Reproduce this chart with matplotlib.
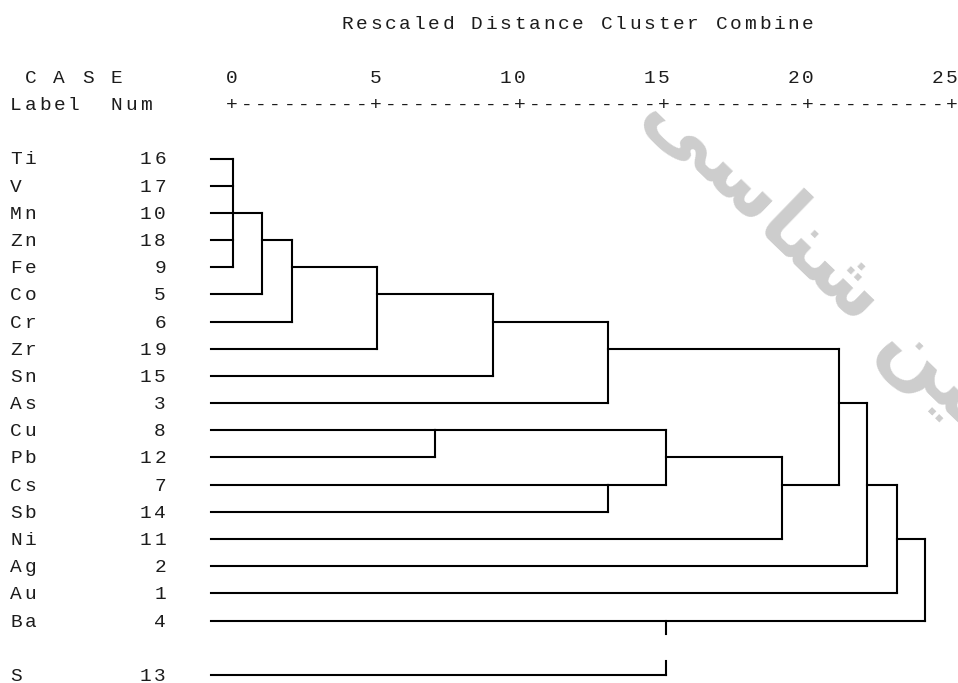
#!/usr/bin/env python3
# Dendrogram of trace elements, drawn in the SPSS text-output style
# (rescaled distance 0-25, one text column = half a unit).
import matplotlib; matplotlib.use("Agg")
import matplotlib.pyplot as plt

labels = ["Ti", "V", "Mn", "Zn", "Fe", "Co", "Cr", "Zr", "Sn", "As",
          "Cu", "Pb", "Cs", "Sb", "Ni", "Ag", "Au", "Ba", "S"]
case_nums = [16, 17, 10, 18, 9, 5, 6, 19, 15, 3, 8, 12, 7, 14, 11, 2, 1, 4, 13]
case_rows = list(range(18)) + [19]           # S sits after a blank line
# rescaled distance where each case line ends (its first join)
leaf_join = [0.03, 0.03, 0.03, 0.03, 0.03, 1.04, 2.08, 5.03, 9.06, 13.06,
             7.05, 7.05, 13.06, 13.06, 19.10, 22.05, 23.09, 24.06, 15.07]

# merges: distance, rows spanned by the vertical, row of the outgoing line, parent merge
merge_dist   = [0.03, 1.04, 2.08, 5.03, 9.06, 13.06, 7.05, 13.06, 15.07, 19.10, 21.08, 22.05, 23.09, 24.06]
merge_top    = [0, 2, 3, 4, 5, 6, 10, 12, 10, 11, 7, 9, 12, 14]
merge_bot    = [4, 5, 6, 7, 8, 9, 11, 13, 12, 14, 12, 15, 16, 17]
merge_out    = [2, 3, 4, 5, 6, 7, 10, 12, 11, 12, 9, 12, 14, None]
merge_parent = [1, 2, 3, 4, 5, 10, 8, 8, 9, 10, 11, 12, 13, None]

scale_ticks = [0, 5, 10, 15, 20, 25]
title = "Rescaled Distance Cluster Combine"

W, H, DPI = 958, 683, 100
X0, PX = 232, 28.8        # pixel of distance 0, pixels per unit
Y0, RH = 158.5, 27.18     # pixel of first case row, pixels per text row
MONO = "Liberation Mono"
INK = "#1c1c1c"
LEAF_X = -0.72

fig = plt.figure(figsize=(W / DPI, H / DPI), dpi=DPI)
ax = fig.add_axes([0, 0, 1, 1])
ax.set_xlim(-X0 / PX, (W - X0) / PX)
ax.set_ylim((H - Y0) / RH, -Y0 / RH)
ax.axis("off")


def put(col, row, s):
    """One character per column; column 15 is distance 0, two columns per unit."""
    for i, ch in enumerate(s):
        if ch != " ":
            ax.text((col + i - 15) / 2, row + 0.22, ch, ha="center", va="baseline",
                    family=MONO, fontsize=14, color=INK)


# header
put(23, -5, title)
put(1, -3, "C A S E")
for t in scale_ticks:
    s = str(t)
    put(15 + 2 * t - len(s) + 1, -3, s)
put(0, -2, "Label")
put(7, -2, "Num")
put(15, -2, "+" + "---------+" * (len(scale_ticks) - 1))

# case labels and numbers
for lab, num, r in zip(labels, case_nums, case_rows):
    put(0, r, lab)
    put(11 - len(str(num)), r, str(num))

kw = dict(color="black", lw=1.5, solid_capstyle="projecting")
for r, d in zip(case_rows, leaf_join):
    ax.plot([LEAF_X, d], [r, r], **kw)
for d, top, bot, out, par in zip(merge_dist, merge_top, merge_bot, merge_out, merge_parent):
    ax.plot([d, d], [top, bot], **kw)
    if par is not None:
        ax.plot([d, merge_dist[par]], [out, out], **kw)

# S is joined to Ba across the blank line (broken link)
ds = leaf_join[-1]
ax.plot([ds, ds], [17, 17.5], **kw)
ax.plot([ds, ds], [18.5, 19], **kw)

# faint watermark (pre-shaped Arabic presentation forms, visual order)
wm = "\uFEF0\uFEB3\uFE8E\uFEE8\uFEB7 \uFEE6\uFEF4\uFEE3\uFEAF"
fig.text(640 / W, 1 - 116 / H, wm, rotation=-44, rotation_mode="anchor",
         ha="left", va="baseline", fontsize=58, fontweight="bold",
         family="DejaVu Sans", color="black", alpha=0.2, zorder=5)

fig.savefig("out.png", dpi=DPI)
